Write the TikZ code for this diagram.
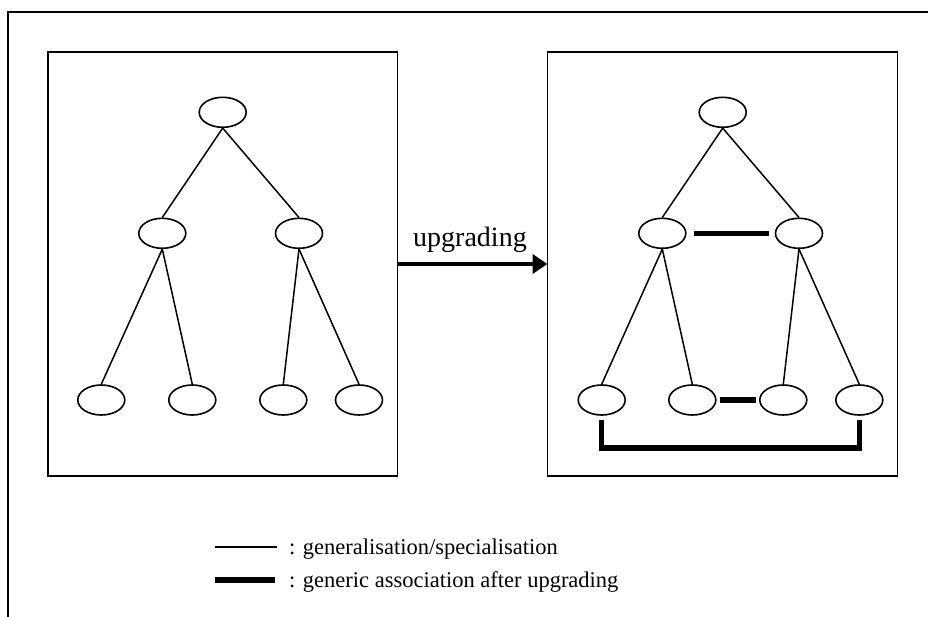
\documentclass[tikz,border=0pt]{standalone}
\usepackage{fontspec}
\setmainfont{Liberation Serif}
\usetikzlibrary{shapes.geometric,arrows.meta}

\tikzset{
  cls/.style={ellipse, draw, line width=1.6pt, minimum width=47pt, minimum height=30pt, inner sep=0pt},
  frame/.style={line width=2pt},
  panel/.style={draw, line width=1.6pt},
  gen/.style={line width=1.5pt},
  assoc/.style={line width=5.5pt, line join=miter},
  lbl/.style={font=\fontsize{28}{30}\selectfont, inner sep=0pt},
  legend/.style={font=\fontsize{22.5}{24}\selectfont, inner sep=0pt, anchor=base west}
}

\begin{document}
\begin{tikzpicture}[x=1pt, y=-1pt]
\useasboundingbox (0,0) rectangle (928,617);

% outer frame (top and left edges)
\draw[frame] (8,617) -- (8,12) -- (930,12);

% the two panels
\draw[panel] (48,52) rectangle (397.5,476);
\draw[panel] (547.5,52) rectangle (897.5,476);

% left hierarchy
\node[cls] (LT)  at (222.7,112.3) {};
\node[cls] (LM1) at (162.3,233.3) {};
\node[cls] (LM2) at (299,233.3) {};
\node[cls] (LB1) at (101.3,400) {};
\node[cls] (LB2) at (192.3,400) {};
\node[cls] (LB3) at (283.3,400) {};
\node[cls] (LB4) at (359,400) {};

\draw[gen] (LT.south) -- (LM1.north);
\draw[gen] (LT.south) -- (LM2.north);
\draw[gen] (LM1.south) -- (LB1.north);
\draw[gen] (LM1.south) -- (LB2.north);
\draw[gen] (LM2.south) -- (LB3.north);
\draw[gen] (LM2.south) -- (LB4.north);

% right hierarchy
\node[cls] (RT)  at (722.7,112.3) {};
\node[cls] (RM1) at (662.3,233.3) {};
\node[cls] (RM2) at (799,233.3) {};
\node[cls] (RB1) at (601.7,400) {};
\node[cls] (RB2) at (692.3,400) {};
\node[cls] (RB3) at (783.3,400) {};
\node[cls] (RB4) at (859.3,400) {};

\draw[gen] (RT.south) -- (RM1.north);
\draw[gen] (RT.south) -- (RM2.north);
\draw[gen] (RM1.south) -- (RB1.north);
\draw[gen] (RM1.south) -- (RB2.north);
\draw[gen] (RM2.south) -- (RB3.north);
\draw[gen] (RM2.south) -- (RB4.north);

% generic associations
\draw[assoc] ([xshift=7pt]RM1.east) -- ([xshift=-5.5pt]RM2.west);
\draw[assoc] ([xshift=3pt]RB2.east) -- ([xshift=-3pt]RB3.west);
\coordinate (bus) at (730,448);
\draw[assoc] ([yshift=-4pt]RB1.south) |- (bus) -| ([yshift=-4pt]RB4.south);

% upgrading arrow
\coordinate (arrS) at (397.5,264);
\coordinate (arrE) at (547.5,264);
\draw[line width=4pt, -{Triangle[length=15pt,width=19pt]}] (arrS) -- (arrE);
\node[lbl, anchor=base] (up) at (470,247) {upgrading};

% legend
\coordinate (g1) at (215,547);
\coordinate (g2) at (277,547);
\draw[gen] (g1) -- (g2);
\node[legend] (t1) at (289,554) {: generalisation/specialisation};
\coordinate (a1) at (215,580);
\coordinate (a2) at (275,580);
\draw[assoc] (a1) -- (a2);
\node[legend] (t2) at (289,587) {: generic association after upgrading};
\end{tikzpicture}
\end{document}
